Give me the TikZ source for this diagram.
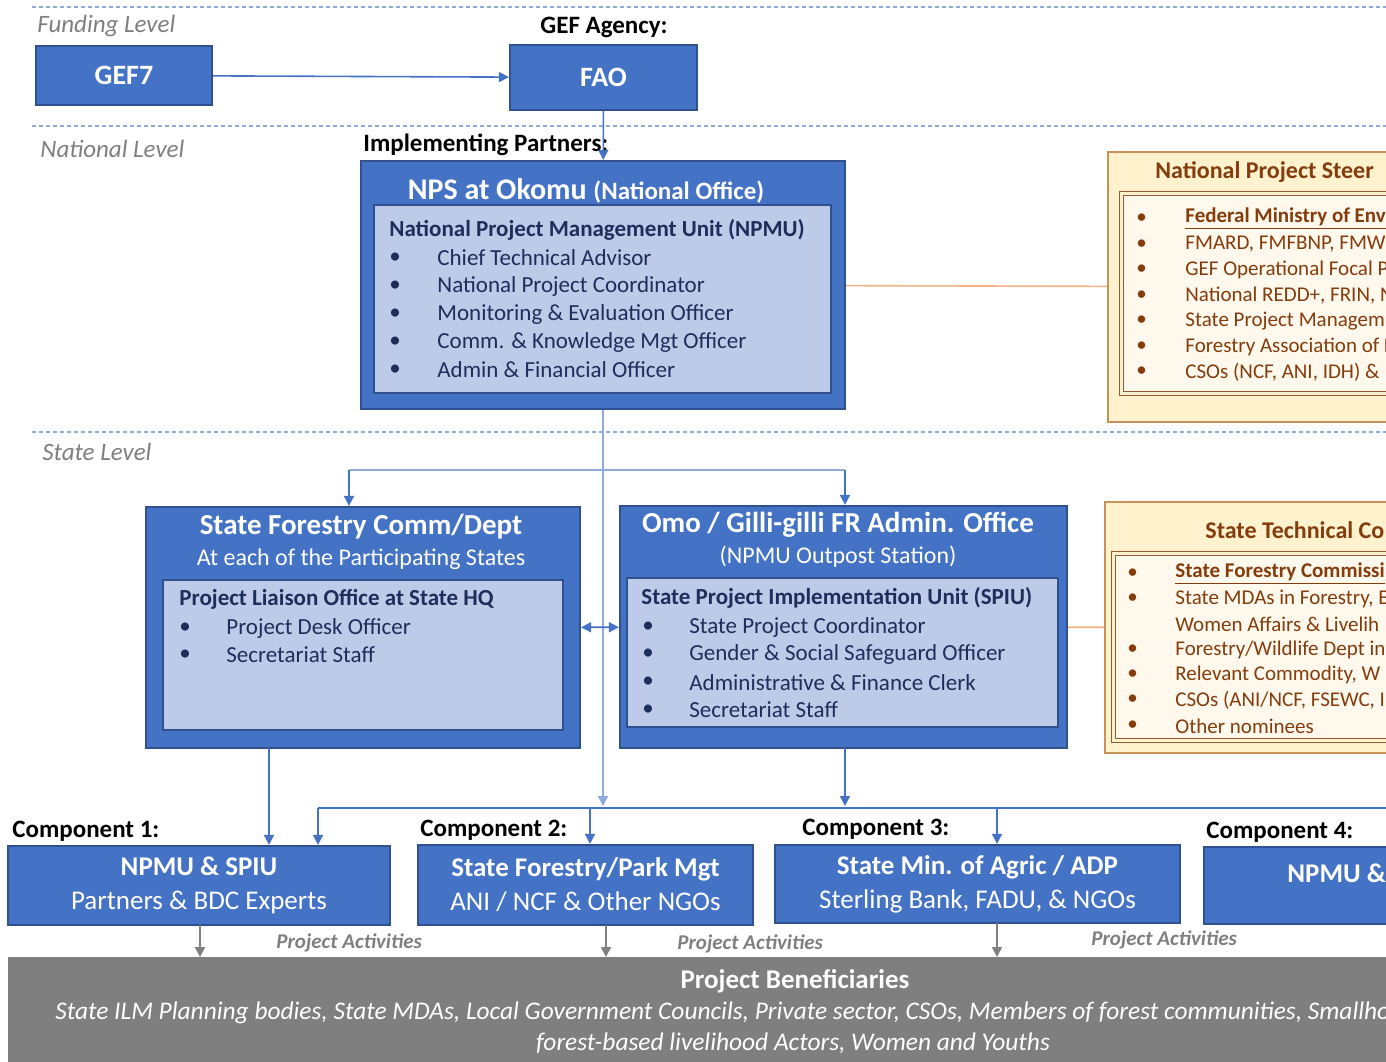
\documentclass[tikz,border=0pt]{standalone}
\usepackage{fontspec}
\setmainfont{Carlito}
\usetikzlibrary{arrows.meta}

\definecolor{boxblue}{HTML}{4472C4}
\definecolor{boxedge}{HTML}{2F528F}
\definecolor{paleblue}{HTML}{BDCBE9}
\definecolor{navy}{HTML}{1F2D5C}
\definecolor{linkblue}{HTML}{8FAADC}
\definecolor{levelgray}{HTML}{7F7F7F}
\definecolor{cream}{HTML}{FFF2CC}
\definecolor{ivory}{HTML}{FFF8EC}
\definecolor{rust}{HTML}{843C0C}
\definecolor{tan}{HTML}{C9925A}
\definecolor{peach}{HTML}{F4B183}
\definecolor{benefgray}{HTML}{7F7F7F}

\newcommand{\fsz}[1]{\fontsize{#1}{1.2\dimexpr#1\relax}\selectfont}

\begin{document}
\begin{tikzpicture}[x=0.5pt, y=-0.5pt, >={Triangle[width=5pt,length=5pt]},
  bluebox/.style={draw=boxedge, fill=boxblue, line width=1.1pt, inner sep=0pt},
  unitbox/.style={draw=boxedge, fill=paleblue, line width=1pt, inner sep=0pt},
  steerbox/.style={draw=tan, fill=cream, line width=1pt, inner sep=0pt, anchor=north west},
  steerlist/.style={draw=rust!85, double=cream, double distance=1.3pt, line width=0.6pt, fill=ivory, inner sep=0pt, anchor=north west},
  levelline/.style={draw=linkblue, line width=0.8pt, dash pattern=on 2pt off 1.5pt},
  levellabel/.style={font=\fsz{12.5pt}\itshape, text=levelgray, anchor=west, inner sep=0pt},
  heading/.style={font=\fsz{12.5pt}\bfseries, text=black, anchor=west, inner sep=0pt},
  boxtitle/.style={font=\fsz{14.5pt}\bfseries, text=white, inner sep=0pt},
  boxsub/.style={font=\fsz{12pt}, text=white, inner sep=0pt},
  unithead/.style={font=\fsz{11.5pt}\bfseries, text=navy, anchor=west, inner sep=0pt},
  unititem/.style={font=\fsz{11.5pt}, text=navy, anchor=west, inner sep=0pt},
  steerhead/.style={font=\fsz{12pt}\bfseries, text=rust, anchor=west, inner sep=0pt},
  steeritem/.style={font=\fsz{10.5pt}, text=rust, anchor=west, inner sep=0pt},
  compbox/.style={bluebox, text=white, align=center, font=\fontsize{13.5pt}{17pt}\selectfont},
  link/.style={draw=boxblue, line width=0.8pt},
  trunk/.style={draw=linkblue, line width=0.8pt},
  feed/.style={draw=peach, line width=0.8pt},
  activity/.style={draw=gray, line width=0.8pt},
  activitytext/.style={font=\fsz{10.5pt}\bfseries\itshape, text=levelgray, anchor=west, inner sep=0pt}]

\useasboundingbox (0,0) rectangle (1386,1061);
\clip (0,0) rectangle (1386,1061);

% levels
\draw[levelline] (32,7) -- (1386,7);
\draw[levelline] (32,126) -- (1386,126);
\draw[levelline] (32,432) -- (1386,432);
\node[levellabel] (funding) at (37,26) {Funding Level};
\node[levellabel] (national) at (40,149) {National Level};
\node[levellabel] (statelvl) at (42,452) {State Level};

% funding level
\node[bluebox, minimum width=88pt, minimum height=29.5pt, font=\fsz{14pt}\bfseries, text=white] (gef) at (124,75.5) {GEF7};
\node[bluebox, minimum width=93.5pt, minimum height=32.5pt, font=\fsz{14pt}\bfseries, text=white] (fao) at (603.5,77.5) {FAO};
\node[heading, anchor=center] (agency) at (604,27) {GEF Agency:};
\draw[link, ->] (gef) -- (fao);

% national level
\node[heading] (partners) at (363,145) {Implementing Partners:};
\node[bluebox, minimum width=242pt, minimum height=124pt] (nps) at (603,285) {};
\draw[link, ->] (fao) -- (nps);
\node[boxtitle, font=\fsz{15pt}\bfseries] (npstitle) at (586,191) {NPS at Okomu \fsz{12.5pt}(National Office)};
\node[unitbox, minimum width=228.5pt, minimum height=94pt] (npmu) at (602.5,299) {};
\node[unithead] (npmuhead) at (389,230) {National Project Management Unit (NPMU)};
\foreach \role [count=\i] in {Chief Technical Advisor, National Project Coordinator,
    Monitoring \& Evaluation Officer, Comm. \& Knowledge Mgt Officer, Admin \& Financial Officer} {
  \node[unititem] (npmudot\i) at (389,230+28*\i) {\textbullet};
  \node[unititem] (npmu\i) at (437,230+28*\i) {\role};
}

% steering committee
\node[steerbox, minimum width=250pt, minimum height=135pt] (npsc) at (1107,151) {};
\node[steerhead] (npsctitle) at (1155,172) {National Project Steer};
\node[steerlist, minimum width=240pt, minimum height=100pt] (npsclist) at (1121,193) {};
\foreach \member [count=\i] in {\underline{\textbf{Federal Ministry of Env}},
    {FMARD, FMFBNP, FMW}, GEF Operational Focal P, {National REDD+, FRIN, N},
    State Project Managem, Forestry Association of N, {CSOs (NCF, ANI, IDH) \&}} {
  \node[steeritem] (npscdot\i) at (1136,193.5+25.5*\i) {\textbullet};
  \node[steeritem] (npsc\i) at (1185,193.5+25.5*\i) {\member};
}
\draw[feed] (nps) -- (npsc);

% state level
\coordinate (npsin) at (603,806);
\coordinate (sfcin) at (349,470);
\coordinate (omoin) at (845,470);
\draw[trunk, ->] (nps.south) -- (npsin);
\draw[trunk] (sfcin) -- (omoin);

\node[bluebox, minimum width=217pt, minimum height=120.5pt] (sfc) at (363,627.5) {};
\node[boxtitle] (sfctitle) at (361,527) {State Forestry Comm/Dept};
\node[boxsub] (sfcsub) at (361,559) {At each of the Participating States};
\node[unitbox, minimum width=200pt, minimum height=75pt] (plo) at (363,655) {};
\node[unithead] (plohead) at (179,599) {Project Liaison Office at State HQ};
\foreach \role [count=\i] in {Project Desk Officer, Secretariat Staff} {
  \node[unititem] (plodot\i) at (179,601+27*\i) {\textbullet};
  \node[unititem] (plo\i) at (226,601+27*\i) {\role};
}

\node[bluebox, minimum width=223.5pt, minimum height=121pt] (omo) at (843.5,627) {};
\node[boxtitle] (omotitle) at (838,525) {Omo / Gilli-gilli FR Admin. Office};
\node[boxsub] (omosub) at (838,557) {(NPMU Outpost Station)};
\node[unitbox, minimum width=215.5pt, minimum height=74.5pt] (spiu) at (842.5,652.5) {};
\node[unithead] (spiuhead) at (641,598) {State Project Implementation Unit (SPIU)};
\foreach \role [count=\i] in {State Project Coordinator, Gender \& Social Safeguard Officer,
    Administrative \& Finance Clerk, Secretariat Staff} {
  \node[unititem] (spiudot\i) at (642,599.3+27.7*\i) {\textbullet};
  \node[unititem] (spiu\i) at (689,599.3+27.7*\i) {\role};
}

\draw[link, ->] (sfcin) -- (sfcin |- sfc.north);
\draw[link, ->] (omoin) -- (omoin |- omo.north);
\draw[link, <->] (sfc) -- (omo);

% state technical committee
\node[steerbox, minimum width=250pt, minimum height=125.5pt] (stc) at (1104,501) {};
\node[steerhead] (stctitle) at (1205,530) {State Technical Co};
\node[steerlist, minimum width=240pt, minimum height=93.5pt] (stclist) at (1113,553) {};
\foreach \member/\yy/\dot in {{\underline{\textbf{State Forestry Commissi}}}/574/\textbullet,
    {State MDAs in Forestry, E}/599/\textbullet,
    {Women Affairs \& Livelih}/624/{},
    {Forestry/Wildlife Dept in}/650/\textbullet,
    {Relevant Commodity, W}/675/\textbullet,
    {CSOs (ANI/NCF, FSEWC, I}/700/\textbullet,
    {Other nominees}/726/\textbullet} {
  \node[steeritem] at (1127,\yy) {\dot};
  \node[steeritem] at (1175,\yy) {\member};
}
\draw[feed] (omo) -- (stc);

% components
\node[heading] (c1label) at (12,831) {Component 1:};
\node[heading] (c2label) at (420,830) {Component 2:};
\node[heading] (c3label) at (802,829) {Component 3:};
\node[heading] (c4label) at (1206,832) {Component 4:};

\node[compbox, minimum width=191pt, minimum height=39.5pt] (comp1) at (199,885.5)
  {\textbf{NPMU \& SPIU}\\Partners \& BDC Experts};
\node[compbox, minimum width=167.5pt, minimum height=40pt] (comp2) at (585.5,885)
  {\textbf{State Forestry/Park Mgt}\\ANI / NCF \& Other NGOs};
\node[compbox, minimum width=202.5pt, minimum height=39pt] (comp3) at (977.5,884)
  {\textbf{State Min. of Agric / ADP}\\Sterling Bank, FADU, \& NGOs};
\node[compbox, minimum width=161pt, minimum height=38.5pt] (comp4) at (1365,885.5) {};
\node[boxtitle, font=\fsz{13.5pt}\bfseries, anchor=west] (comp4title) at (1287,873) {NPMU \&};

\coordinate (sfcout) at (269,748);
\coordinate (omoout) at (845,748);
\coordinate (omobus) at (845,806);
\coordinate (busW) at (318,808);
\coordinate (busE) at (1420,808);
\coordinate (c2in) at (590,808);
\coordinate (c3in) at (997,808);
\draw[link, ->] (sfcout) -- (sfcout |- comp1.north);
\draw[link, ->] (omoout) -- (omobus);
\draw[link] (busW) -- (busE);
\draw[link, ->] (busW) -- (busW |- comp1.north);
\draw[link, ->] (c2in) -- (c2in |- comp2.north);
\draw[link, ->] (c3in) -- (c3in |- comp3.north);

% beneficiaries
\node[draw=benefgray, fill=benefgray, inner sep=0pt, anchor=north west, minimum width=787pt, minimum height=59pt] (benef) at (8,957) {};
\node[font=\fsz{13.5pt}\bfseries, text=white, inner sep=0pt] (beneftitle) at (795,981) {Project Beneficiaries};
\node[font=\fsz{12.7pt}\itshape, text=white, inner sep=0pt, anchor=west] (benef1) at (55,1013)
  {State ILM Planning bodies, State MDAs, Local Government Councils, Private sector, CSOs, Members of forest communities, Smallho};
\node[font=\fsz{12.7pt}\itshape, text=white, inner sep=0pt] (benef2) at (793,1043)
  {forest-based livelihood Actors, Women and Youths};

\coordinate (act1) at (200,925);
\coordinate (act2) at (606,925);
\coordinate (act3) at (997,923);
\foreach \a in {act1, act2, act3}
  \draw[activity, ->] (\a) -- (\a |- benef.north);
\node[activitytext] (acttext1) at (276,943) {Project Activities};
\node[activitytext] (acttext2) at (677,944) {Project Activities};
\node[activitytext] (acttext3) at (1091,940) {Project Activities};

\end{tikzpicture}
\end{document}
